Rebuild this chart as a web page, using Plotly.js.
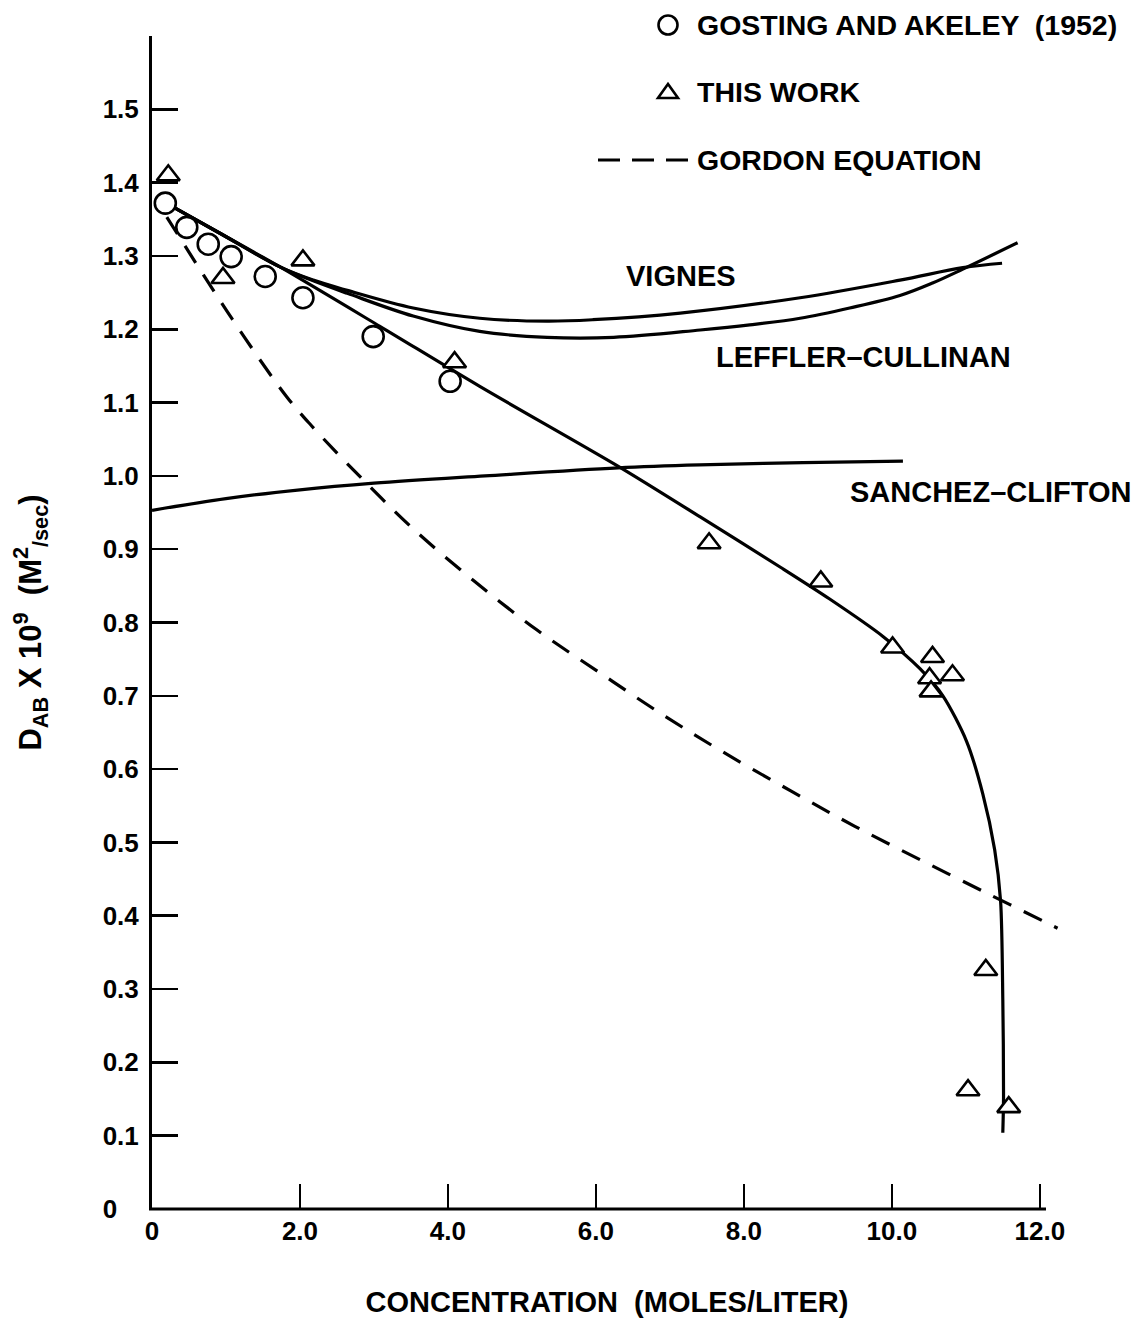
<!DOCTYPE html>
<html>
<head>
<meta charset="utf-8">
<script src="https://cdn.plot.ly/plotly-3.0.1.min.js"></script>
<style>
  html, body { margin: 0; padding: 0; background: #ffffff; }
  #chart { width: 1138px; height: 1318px; }
</style>
</head>
<body>
<div id="chart"></div>
<script>
// ---- Data ----
// Gosting and Akeley (1952) - open circles
const gostingX = [0.18, 0.47, 0.76, 1.07, 1.53, 2.04, 2.99, 4.03];
const gostingY = [1.372, 1.339, 1.316, 1.299, 1.272, 1.243, 1.190, 1.129];

// This work - triangles
const thisWorkX = [0.22, 0.96, 2.04, 4.09, 7.53, 9.04, 10.01, 10.55, 10.51, 10.82, 10.53, 11.27, 11.03, 11.58];
const thisWorkY = [1.410, 1.270, 1.294, 1.155, 0.908, 0.856, 0.766, 0.753, 0.724, 0.728, 0.706, 0.326, 0.162, 0.139];

// Solid curve through the data (fit)
const fitX = [0.12, 0.90, 1.73, 3.08, 4.43, 6.32, 7.41, 8.50, 9.16, 9.88, 10.38, 10.69, 11.01, 11.23, 11.39, 11.47, 11.50, 11.51, 11.50];
const fitY = [1.376, 1.332, 1.285, 1.204, 1.122, 1.012, 0.944, 0.875, 0.832, 0.781, 0.737, 0.700, 0.638, 0.566, 0.490, 0.420, 0.285, 0.153, 0.104];

// Vignes
const vignesX = [0.12, 0.90, 1.73, 2.18, 2.64, 3.53, 4.43, 5.34, 5.96, 7.14, 8.76, 10.11, 10.96, 11.49];
const vignesY = [1.376, 1.332, 1.285, 1.267, 1.253, 1.229, 1.215, 1.211, 1.213, 1.222, 1.243, 1.267, 1.284, 1.290];

// Leffler-Cullinan
const lefflerX = [0.12, 0.90, 1.73, 2.18, 2.64, 3.53, 4.43, 5.34, 6.24, 7.41, 8.08, 8.76, 9.43, 10.11, 10.55, 10.96, 11.70];
const lefflerY = [1.376, 1.332, 1.285, 1.266, 1.249, 1.218, 1.197, 1.189, 1.189, 1.199, 1.206, 1.215, 1.229, 1.246, 1.263, 1.282, 1.318];

// Sanchez-Clifton
const sanchezX = [0.00, 1.00, 2.00, 3.00, 4.50, 6.30, 7.40, 8.80, 10.15];
const sanchezY = [0.953, 0.969, 0.981, 0.990, 1.000, 1.011, 1.015, 1.018, 1.020];

// Gordon equation (dashed)
const gordonX = [0.20, 1.09, 1.82, 2.15, 2.84, 3.55, 4.35, 5.20, 6.03, 6.86, 7.69, 8.64, 9.50, 10.41, 11.34, 12.12, 12.24];
const gordonY = [1.353, 1.213, 1.108, 1.069, 0.996, 0.926, 0.857, 0.790, 0.733, 0.677, 0.625, 0.570, 0.522, 0.475, 0.428, 0.389, 0.383];

// Tick labels
const xTickVals = [0, 2, 4, 6, 8, 10, 12];
const xTickText = ['0', '2.0', '4.0', '6.0', '8.0', '10.0', '12.0'];
const yTickVals = [0, 0.1, 0.2, 0.3, 0.4, 0.5, 0.6, 0.7, 0.8, 0.9, 1.0, 1.1, 1.2, 1.3, 1.4, 1.5];
const yTickText = ['0\u00A0\u00A0\u00A0', '0.1', '0.2', '0.3', '0.4', '0.5', '0.6', '0.7', '0.8', '0.9', '1.0', '1.1', '1.2', '1.3', '1.4', '1.5'];

// Text
const legendLabels = ['GOSTING AND AKELEY  (1952)', 'THIS WORK', 'GORDON EQUATION'];
const curveLabels = ['VIGNES', 'LEFFLER\u2013CULLINAN', 'SANCHEZ\u2013CLIFTON'];
const xTitle = 'CONCENTRATION  (MOLES/LITER)';
const yTitle = 'D<sub>AB</sub> X 10<sup>9</sup>\u00A0\u00A0(M<sup>2</sup><sub>/sec</sub>)';

// ---- Chart ----
const FONT = '"Liberation Sans", Arial, Helvetica, sans-serif';
const LW = 3.2;
const solid = {color: 'black', width: LW, shape: 'spline', smoothing: 1};

const traces = [
  {x: gordonX, y: gordonY, mode: 'lines', name: 'GORDON EQUATION',
   line: {color: 'black', width: LW, dash: '20px,14px', shape: 'spline', smoothing: 1}},
  {x: sanchezX, y: sanchezY, mode: 'lines', name: 'SANCHEZ-CLIFTON', line: solid},
  {x: vignesX, y: vignesY, mode: 'lines', name: 'VIGNES', line: solid},
  {x: lefflerX, y: lefflerY, mode: 'lines', name: 'LEFFLER-CULLINAN', line: solid},
  {x: fitX, y: fitY, mode: 'lines', name: 'FIT', line: {color: 'black', width: LW, shape: 'spline', smoothing: 0.8}},
  {x: gostingX, y: gostingY, mode: 'markers', name: 'GOSTING AND AKELEY (1952)', cliponaxis: false,
   marker: {symbol: 'circle', size: 21, color: 'white', line: {color: 'black', width: 2.6}}},
  {x: thisWorkX, y: thisWorkY, mode: 'markers', name: 'THIS WORK', cliponaxis: false,
   marker: {symbol: 'triangle-up', size: 20, color: 'white', line: {color: 'black', width: 2.6}}}
];

// plot area in pixels (0 -> 152 px, 12.0 -> 1040 px)
const XMAX = 12.3;
const PL = 152, PR = 152 + Math.round(XMAX * 74), PT = 36, PB = 1209;
const px = v => (v - PL) / (PR - PL);
const py = v => (PB - v) / (PB - PT);

const annFont = {family: FONT, size: 28.5, color: 'black', weight: 700};
const lblFont = {family: FONT, size: 29, color: 'black', weight: 700};

const annotations = [
  {xref: 'paper', yref: 'paper', x: px(697), y: py(25), xanchor: 'left', yanchor: 'middle', xshift: -2, text: legendLabels[0], showarrow: false, font: annFont},
  {xref: 'paper', yref: 'paper', x: px(697), y: py(92), xanchor: 'left', yanchor: 'middle', xshift: -2, text: legendLabels[1], showarrow: false, font: annFont},
  {xref: 'paper', yref: 'paper', x: px(697), y: py(160), xanchor: 'left', yanchor: 'middle', xshift: -2, text: legendLabels[2], showarrow: false, font: annFont},
  {xref: 'x', yref: 'y', x: 6.41, y: 1.272, xanchor: 'left', yanchor: 'middle', xshift: -2, text: curveLabels[0], showarrow: false, font: lblFont},
  {xref: 'x', yref: 'y', x: 7.62, y: 1.162, xanchor: 'left', yanchor: 'middle', xshift: -2, text: curveLabels[1], showarrow: false, font: lblFont},
  {xref: 'x', yref: 'y', x: 9.43, y: 0.978, xanchor: 'left', yanchor: 'middle', xshift: -2, text: curveLabels[2], showarrow: false, font: lblFont}
];

const shapes = [
  // x axis line (stops just past the 12.0 tick, as in the original)
  {type: 'line', xref: 'paper', yref: 'paper', x0: px(149), x1: px(1046), y0: 0, y1: 0,
   line: {color: 'black', width: 3}},
  // legend circle
  {type: 'circle', xref: 'paper', yref: 'paper', xsizemode: 'pixel', ysizemode: 'pixel',
   xanchor: px(668), yanchor: py(25), x0: -9.5, x1: 9.5, y0: -9.5, y1: 9.5,
   line: {color: 'black', width: 2.6}, fillcolor: 'white'},
  // legend triangle
  {type: 'path', xref: 'paper', yref: 'paper', xsizemode: 'pixel', ysizemode: 'pixel',
   xanchor: px(668), yanchor: py(92), path: 'M -10 -6 L 10 -6 L 0 8 Z',
   line: {color: 'black', width: 2.6}, fillcolor: 'white'},
  // legend dashes
  {type: 'line', xref: 'paper', yref: 'paper', x0: px(598), x1: px(688), y0: py(160), y1: py(160),
   line: {color: 'black', width: 3.2, dash: '22px,12px'}}
];

const tickFont = {family: FONT, size: 26, color: 'black', weight: 700};

const layout = {
  width: 1138, height: 1318,
  margin: {l: PL, r: 1138 - PR, t: PT, b: 1318 - PB, pad: 0},
  paper_bgcolor: 'white', plot_bgcolor: 'white',
  font: {family: FONT, size: 26, color: 'black', weight: 700},
  showlegend: false,
  xaxis: {
    range: [0, XMAX], tickmode: 'array', tickvals: xTickVals, ticktext: xTickText,
    ticks: 'inside', ticklen: 25, tickwidth: 2.6, tickcolor: 'black',
    showline: false, showgrid: false, zeroline: false,
    tickfont: tickFont, ticklabelstandoff: 4, automargin: false, fixedrange: true,
    title: {text: xTitle, font: {family: FONT, size: 29, color: 'black', weight: 700}, standoff: 47}
  },
  yaxis: {
    range: [0, 1.6], tickmode: 'array', tickvals: yTickVals, ticktext: yTickText,
    ticks: 'inside', ticklen: 26, tickwidth: 2.6, tickcolor: 'black',
    showline: true, linewidth: 3, linecolor: 'black', showgrid: false, zeroline: false,
    tickfont: tickFont, ticklabelstandoff: 5, automargin: false, fixedrange: true,
    title: {text: yTitle, font: {family: FONT, size: 31, color: 'black', weight: 700}, standoff: 52}
  },
  annotations: annotations,
  shapes: shapes
};

Plotly.newPlot('chart', traces, layout, {displayModeBar: false, staticPlot: true});
</script>
</body>
</html>
